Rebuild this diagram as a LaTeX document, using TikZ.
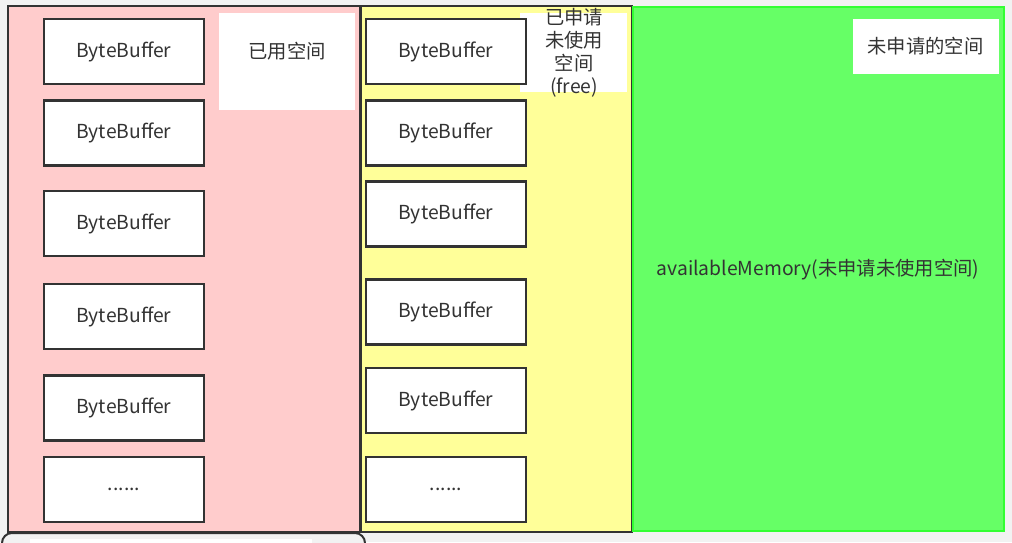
\documentclass[tikz,border=0pt]{standalone}
\usepackage{fontspec}
\setmainfont{Noto Sans CJK SC}
\definecolor{bgc}{RGB}{242,242,242}
\definecolor{edge}{RGB}{51,51,51}
\definecolor{txt}{RGB}{51,51,51}
\definecolor{pinkc}{RGB}{255,204,204}
\definecolor{yelc}{RGB}{255,255,153}
\definecolor{grnc}{RGB}{102,255,102}
\definecolor{grnb}{RGB}{51,255,51}
\newcommand{\fsz}{\fontsize{19.3}{23}\selectfont}
\tikzset{
  buf/.style={draw=edge, line width=2.8pt, fill=white, minimum width=160pt, minimum height=65pt, inner sep=0pt, font=\fsz, text=txt},
  lbl/.style={fill=white, inner sep=0pt, font=\fsz, text=txt, align=center},
  region/.style={draw=edge, line width=2.2pt}
}
\begin{document}
\begin{tikzpicture}[x=1pt,y=-1pt]
\useasboundingbox (0,0) rectangle (1012,542);
\fill[bgc] (0,0) rectangle (1012,542);
% bottom partial rounded box
\draw[edge, line width=2pt, fill=bgc, rounded corners=10pt] (2,533) rectangle (365,560);
\fill[white] (30,539) rectangle (312,560);
% regions
\draw[region, fill=pinkc] (8,6) rectangle (360,532);
\draw[region, fill=yelc] (361,6) rectangle (632,532);
\draw[draw=grnb, line width=2.6pt, fill=grnc] (633,7) rectangle (1004,531);
% labels
\node[lbl, minimum width=136pt, minimum height=97pt] (used) at (287,61.5) {};
\node[lbl] (usedt) at (287,51) {已用空间};
\node[lbl, minimum width=107pt, minimum height=79pt] (freeb) at (573.5,52.5) {};
\node[lbl, fill=none] (freet) at (574,53) {已申请\\未使用\\空间\\(free)};
\node[lbl, minimum width=146pt, minimum height=55pt] (unalloc) at (925.5,46.5) {未申请的空间};
\node[font=\fsz, text=txt] (avail) at (818,270) {availableMemory(未申请未使用空间)};
% left buffers
\node[buf] (l1) at (124,51.5) {ByteBuffer};
\node[buf] (l2) at (124,133) {ByteBuffer};
\node[buf] (l3) at (124,223.5) {ByteBuffer};
\node[buf] (l4) at (124,316.5) {ByteBuffer};
\node[buf] (l5) at (124,408) {ByteBuffer};
\node[buf] (l6) at (124,489.5) {......};
% middle buffers
\node[buf] (m1) at (446,51.5) {ByteBuffer};
\node[buf] (m2) at (446,133) {ByteBuffer};
\node[buf] (m3) at (446,214) {ByteBuffer};
\node[buf] (m4) at (446,312) {ByteBuffer};
\node[buf] (m5) at (446,400.5) {ByteBuffer};
\node[buf] (m6) at (446,489.5) {......};
\end{tikzpicture}
\end{document}
